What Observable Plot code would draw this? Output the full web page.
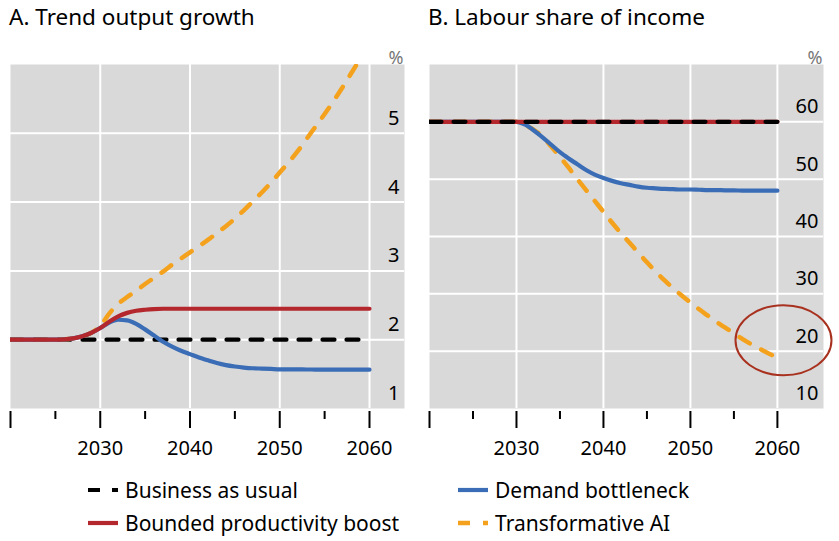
<!DOCTYPE html>
<html><head><meta charset="utf-8">
<script src="https://cdn.jsdelivr.net/npm/d3@7"></script>
<script src="https://cdn.jsdelivr.net/npm/@observablehq/plot@0.6"></script>
<style>
body{margin:0;background:#fff;font-family:"Noto Sans",sans-serif;}
#wrap{position:relative;width:839px;height:541px;overflow:hidden;background:#fff;}
.title{position:absolute;top:1px;font-size:22.5px;color:#000;white-space:nowrap;line-height:32px;}
.panel{position:absolute;top:40px;}
.leg{position:absolute;display:flex;align-items:center;font-size:21px;color:#000;white-space:nowrap;height:24px;}
.leg svg{margin-right:7px;}
</style></head>
<body><div id="wrap">
<div class="title" style="left:9px">A. Trend output growth</div>
<div class="title" style="left:428px">B. Labour share of income</div>
<div class="panel" id="pa" style="left:0px"></div>
<div class="panel" id="pb" style="left:420px"></div>
<div id="legend"></div>
</div>
<script>
// ---- data ----
const years = [2020,2021,2022,2023,2024,2025,2026,2027,2028,2029,2030,2031,2032,2033,2034,2035,2036,2037,2038,2039,2040,2041,2042,2043,2044,2045,2046,2047,2048,2049,2050,2051,2052,2053,2054,2055,2056,2057,2058,2059,2060];

// Panel A: trend output growth, %
const bauA = [2,2,2,2,2,2,2,2,2,2,2,2,2,2,2,2,2,2,2,2,2,2,2,2,2,2,2,2,2,2,2,2,2,2,2,2,2,2,2,2,2];
const boundedA = [2,2,2,2,2,2,2.005,2.02,2.05,2.10,2.17,2.26,2.34,2.39,2.42,2.435,2.445,2.45,2.45,2.45,2.45,2.45,2.45,2.45,2.45,2.45,2.45,2.45,2.45,2.45,2.45,2.45,2.45,2.45,2.45,2.45,2.45,2.45,2.45,2.45,2.45];
const demandA = [2,2,2,2,2,2,2.005,2.02,2.05,2.10,2.17,2.25,2.29,2.28,2.23,2.15,2.06,1.97,1.90,1.84,1.79,1.74,1.70,1.66,1.63,1.61,1.595,1.585,1.58,1.575,1.57,1.57,1.568,1.567,1.566,1.565,1.565,1.565,1.565,1.565,1.565];
const transformA = [2,2,2,2,2,2,2.005,2.02,2.05,2.10,2.20,2.38,2.52,2.62,2.71,2.81,2.90,2.99,3.09,3.18,3.27,3.36,3.45,3.55,3.65,3.76,3.88,4.01,4.14,4.28,4.43,4.58,4.74,4.92,5.10,5.28,5.47,5.67,5.88,6.09,6.30];

// Panel B: labour share of income, %
const bauB = [60,60,60,60,60,60,60,60,60,60,60,60,60,60,60,60,60,60,60,60,60,60,60,60,60,60,60,60,60,60,60,60,60,60,60,60,60,60,60,60,60];
const boundedB = [60,60,60,60,60,60,60,60,60,60,60,60,60,60,60,60,60,60,60,60,60,60,60,60,60,60,60,60,60,60,60,60,60,60,60,60,60,60,60,60,60];
const demandB = [60,60,60,60,60,60,60,60,60,60,60,59.5,58.5,57.3,56.0,54.7,53.6,52.6,51.6,50.8,50.2,49.7,49.3,49.0,48.7,48.5,48.4,48.3,48.25,48.2,48.2,48.15,48.1,48.1,48.05,48.05,48.0,48.0,48.0,48.0,48.0];
const transformB = [60,60,60,60,60,60,60,60,60,60,60,59.4,58.6,57.4,55.7,53.9,52.0,50.0,48.1,46.2,44.3,42.4,40.6,38.9,37.2,35.5,33.9,32.4,31.0,29.7,28.5,27.3,26.2,25.1,24.1,23.1,22.1,21.2,20.4,19.6,18.9];

// ticks
const xMajor = [2020,2030,2040,2050,2060];
const xMinor = [2025,2035,2045,2055];
const xLabels = [2030,2040,2050,2060];
const xGrid = [2030,2040,2050,2060];
const yTicksA = [1,2,3,4,5];
const yGridA = [2,3,4,5];
const yTicksB = [10,20,30,40,50,60];
const yGridB = [20,30,40,50,60];

// highlight annotation in panel B
const highlight = [{year:2060.7, value:21.9}];

const series = [
  {key:"bau", label:"Business as usual", color:"#000000", dash:"12,12", width:4.2},
  {key:"bounded", label:"Bounded productivity boost", color:"#b3272d", dash:null, width:4.2},
  {key:"demand", label:"Demand bottleneck", color:"#3a6db5", dash:null, width:4.2},
  {key:"transform", label:"Transformative AI", color:"#f4a21d", dash:"12,13", width:4.5}
];
const S = Object.fromEntries(series.map(s => [s.key, s]));

const tableA = years.map((y,i) => ({year:y, bau:bauA[i], bounded:boundedA[i], demand:demandA[i], transform:transformA[i]}));
const tableB = years.map((y,i) => ({year:y, bau:bauB[i], bounded:boundedB[i], demand:demandB[i], transform:transformB[i]}));

function lineMark(table, key){
  const s = S[key];
  return Plot.line(table, {x:"year", y:key, stroke:s.color, strokeWidth:s.width, strokeDasharray:s.dash, curve:"monotone-x", clip:true});
}

const ellipseSymbol = {draw(ctx){
  const rx = 48, ry = 35, k = 0.5523;
  ctx.moveTo(rx,0);
  ctx.bezierCurveTo(rx, ry*k, rx*k, ry, 0, ry);
  ctx.bezierCurveTo(-rx*k, ry, -rx, ry*k, -rx, 0);
  ctx.bezierCurveTo(-rx, -ry*k, -rx*k, -ry, 0, -ry);
  ctx.bezierCurveTo(rx*k, -ry, rx, -ry*k, rx, 0);
  ctx.closePath();
}};

function panel({table, xDomain, yDomain, yTicks, yGrid, order, marginLeft, marginRight, extra=[]}){
  return Plot.plot({
    width:419, height:420,
    marginLeft, marginRight, marginTop:24, marginBottom:52,
    style:{fontFamily:"Noto Sans", fontSize:"20px", background:"transparent", overflow:"visible", color:"#000"},
    x:{domain:xDomain, axis:null, label:null},
    y:{domain:yDomain, axis:null, label:null},
    marks:[
      Plot.frame({fill:"#d9d9d9", stroke:null}),
      Plot.ruleX(xGrid, {stroke:"#ffffff", strokeWidth:2}),
      Plot.ruleY(yGrid, {stroke:"#ffffff", strokeWidth:2}),
      ...order.map(k => lineMark(table, k)),
      Plot.text(yTicks, {y:d=>d, text:d=>String(d), frameAnchor:"right", textAnchor:"end", dx:-5, dy:-15, fontSize:20, fill:"#000"}),
      Plot.text(["%"], {frameAnchor:"top-right", textAnchor:"end", dx:-1, dy:-13, fontSize:18, fill:"#777"}),
      Plot.axisX(xMajor, {tickSize:17, tickFormat:()=>"", label:null, strokeWidth:2, stroke:"#000", dy:3}),
      Plot.axisX(xMinor, {tickSize:8, tickFormat:()=>"", label:null, strokeWidth:2, stroke:"#000", dy:3}),
      Plot.axisX(xLabels, {tickSize:0, tickPadding:32, tickFormat:d=>String(d), label:null, fontSize:20, fill:"#000"}),
      ...extra
    ]
  });
}

document.getElementById("pa").append(panel({
  table:tableA, xDomain:[2020,2063.9], yDomain:[1,6], yTicks:yTicksA, yGrid:yGridA,
  order:["bau","transform","demand","bounded"], marginLeft:10, marginRight:15
}));
document.getElementById("pb").append(panel({
  table:tableB, xDomain:[2020,2065.3], yDomain:[10,70], yTicks:yTicksB, yGrid:yGridB,
  order:["transform","demand","bounded","bau"], marginLeft:9, marginRight:16,
  extra:[Plot.dot(highlight, {x:"year", y:"value", symbol:ellipseSymbol, stroke:"#a8321f", strokeWidth:2, fill:"none", clip:false})]
}));

// legend
const legendPos = [
  {key:"bau", left:88, top:478},
  {key:"bounded", left:88, top:511},
  {key:"demand", left:458, top:478},
  {key:"transform", left:458, top:511}
];
const legend = document.getElementById("legend");
for (const p of legendPos){
  const s = S[p.key];
  const div = document.createElement("div");
  div.className = "leg";
  div.style.left = p.left + "px";
  div.style.top = p.top + "px";
  div.innerHTML = `<svg width="30" height="24"><line x1="0" x2="30" y1="12" y2="12" stroke="${s.color}" stroke-width="${s.width}" ${s.dash ? `stroke-dasharray="${s.dash}"` : ""}/></svg><span>${s.label}</span>`;
  legend.append(div);
}
</script>
</body></html>
